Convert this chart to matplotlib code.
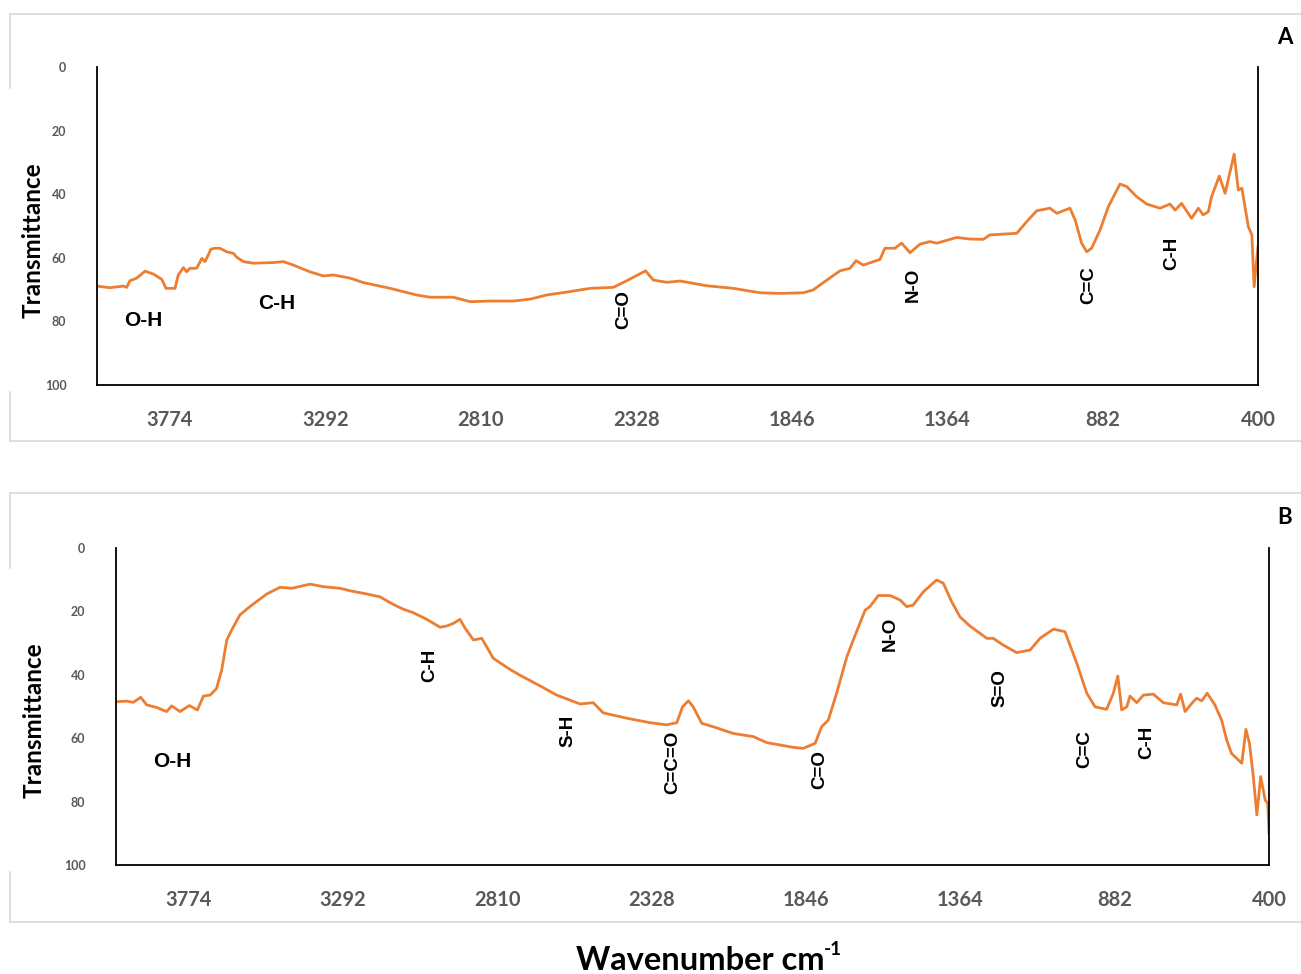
import matplotlib
matplotlib.use("Agg")
import matplotlib.pyplot as plt

# spectrum A (wavenumber, transmittance)
wn_a = [4000, 3960, 3918, 3908, 3898, 3877, 3851, 3825, 3799, 3786, 3758, 3748, 3732, 3722, 3712, 3691,
        3675, 3665, 3655, 3647, 3634, 3619, 3598, 3577, 3567, 3546, 3515, 3453, 3422, 3391, 3340, 3298,
        3267, 3215, 3174, 3091, 3009, 2967, 2895, 2843, 2781, 2709, 2657, 2606, 2544, 2471, 2399, 2357,
        2299, 2275, 2233, 2192, 2109, 2027, 1944, 1882, 1810, 1779, 1737, 1696, 1665, 1646, 1624, 1572,
        1557, 1526, 1505, 1479, 1448, 1417, 1396, 1334, 1293, 1252, 1231, 1148, 1117, 1086, 1045, 1024,
        983, 967, 947, 931, 916, 890, 864, 828, 807, 776, 745, 704, 673, 657, 637, 606, 585, 570, 554,
        544, 520, 502, 474, 461, 450, 430, 419, 412, 406, 400]
t_a = [68.9, 69.4, 68.9, 69.3, 67.2, 66.4, 64.2, 65.1, 66.8, 69.6, 69.6, 65.4, 63.1, 64.4, 63.3, 63.3,
       60.2, 61.2, 59.1, 57.3, 57.0, 57.0, 58.1, 58.6, 59.8, 61.2, 61.7, 61.5, 61.2, 62.3, 64.4, 65.7,
       65.4, 66.4, 67.8, 69.6, 71.7, 72.4, 72.4, 73.8, 73.6, 73.6, 73.0, 71.7, 70.8, 69.6, 69.3, 67.2,
       64.1, 67.0, 67.7, 67.3, 68.8, 69.6, 71.0, 71.2, 71.0, 70.1, 67.0, 64.1, 63.3, 60.9, 62.3, 60.5,
       57.0, 57.0, 55.4, 58.4, 55.7, 54.9, 55.4, 53.6, 54.1, 54.2, 52.8, 52.3, 48.6, 45.2, 44.4, 46.0,
       44.4, 48.1, 55.4, 58.1, 57.0, 51.3, 43.9, 36.8, 37.6, 40.8, 43.1, 44.4, 43.1, 45.0, 42.9, 47.6, 44.4, 46.5, 45.5,
       40.8, 34.3, 39.7, 27.4, 38.7, 38.1, 50.2, 52.8, 69.1, 62.6, 56.5]

# spectrum B
wn_b = [4000, 3967, 3946, 3923, 3904, 3873, 3842, 3826, 3800, 3771, 3746, 3727, 3706, 3686, 3670, 3654,
        3639, 3613, 3582, 3561, 3529, 3488, 3451, 3394, 3353, 3301, 3269, 3217, 3176, 3134, 3103, 3072,
        3030, 2988, 2967, 2947, 2926, 2910, 2884, 2858, 2843, 2822, 2770, 2739, 2676, 2624, 2551, 2510,
        2479, 2405, 2333, 2281, 2249, 2231, 2213, 2198, 2171, 2135, 2073, 2010, 1968, 1885, 1854, 1817,
        1797, 1776, 1750, 1718, 1698, 1661, 1646, 1620, 1583, 1552, 1531, 1511, 1479, 1438, 1417, 1391,
        1365, 1334, 1281, 1261, 1230, 1188, 1146, 1115, 1073, 1037, 1000, 969, 943, 907, 886, 872, 860,
        844, 834, 813, 792, 761, 730, 688, 676, 662, 641, 626, 610, 593, 569, 548, 532, 517, 485, 472,
        461, 449, 438, 426, 412, 404, 400]
t_b = [48.5, 48.3, 48.7, 47.1, 49.5, 50.3, 51.6, 49.8, 51.6, 49.7, 51.1, 46.7, 46.4, 44.3, 38.5, 29.0,
       25.9, 21.1, 18.5, 16.9, 14.5, 12.4, 12.7, 11.4, 12.2, 12.7, 13.5, 14.5, 15.4, 17.8, 19.3, 20.4,
       22.5, 25.0, 24.6, 23.8, 22.5, 25.3, 29.0, 28.5, 31.1, 34.8, 38.3, 40.1, 43.5, 46.4, 49.2, 48.8,
       52.0, 53.7, 55.1, 55.8, 55.1, 50.1, 48.2, 50.1, 55.3, 56.4, 58.5, 59.5, 61.4, 62.9, 63.2, 61.6,
       56.4, 54.3, 45.8, 34.3, 29.0, 19.6, 18.5, 15.0, 15.0, 16.4, 18.5, 18.0, 13.8, 10.1, 11.1, 16.9,
       21.7, 24.6, 28.5, 28.5, 30.6, 33.0, 32.2, 28.5, 25.6, 26.4, 36.4, 45.8, 50.1, 50.9, 45.8, 40.4, 51.1,
       50.1, 46.7, 48.8, 46.4, 46.1, 48.8, 49.5, 46.1, 51.6, 49.0, 47.4, 48.2, 45.8, 49.5, 54.3, 60.6, 64.8, 67.9, 57.2,
       61.6, 72.1, 84.2, 72.1, 79.5, 80.5, 90.0]

xticks = [3774, 3292, 2810, 2328, 1846, 1364, 882, 400]
yticks = [0, 20, 40, 60, 80, 100]

# peak labels: text, wavenumber, transmittance, rotation
lab_a = ["O-H", "C-H", "C=O", "N-O", "C=C", "C-H"]
lab_a_x = [3857, 3442, 2366, 1470, 924, 667]
lab_a_y = [79.6, 74.5, 76.4, 68.6, 68.6, 58.5]
lab_a_rot = [0, 0, 90, 90, 90, 90]

lab_b = ["O-H", "C-H", "S-H", "C=C=O", "C=O", "N-O", "S=O", "C=C", "C-H"]
lab_b_x = [3825, 3020, 2589, 2261, 1802, 1583, 1240, 974, 781]
lab_b_y = [67.2, 36.9, 57.7, 67.5, 70.0, 27.1, 44.2, 63.4, 61.2]
lab_b_rot = [0, 90, 90, 90, 90, 90, 90, 90, 90]

W, H = 1301, 974
fig = plt.figure(figsize=(W / 100, H / 100), dpi=100)

# light frames round each panel (pixel coords)
bg = fig.add_axes([0, 0, 1, 1], zorder=-5)
bg.set_xlim(0, W)
bg.set_ylim(H, 0)
bg.axis('off')
for top, bot, g0, g1 in [(14, 441, 88, 392), (493, 922, 568, 872)]:
    bg.plot([10, W], [top, top], color='#d9d9d9', lw=1.2)
    bg.plot([10, W], [bot, bot], color='#d9d9d9', lw=1.2)
    bg.plot([10, 10], [top, g0], color='#d9d9d9', lw=1.2)
    bg.plot([10, 10], [g1, bot], color='#d9d9d9', lw=1.2)


def style(ax):
    ax.set_xlim(4000, 400)
    ax.set_ylim(100, 0)
    ax.set_xticks(xticks)
    ax.set_yticks(yticks)
    ax.set_xticklabels([str(v) for v in xticks], fontsize=14.5, fontweight='bold',
                       color='#595959', family=['Lato', 'DejaVu Sans'])
    ax.set_yticklabels([str(v) for v in yticks], fontsize=9, fontweight='bold',
                       color='#595959', family=['Lato', 'DejaVu Sans'])
    ax.tick_params(axis='x', length=0, pad=18)
    ax.tick_params(axis='y', length=0, pad=22)
    ax.spines['top'].set_visible(False)
    for s in ['left', 'bottom', 'right']:
        ax.spines[s].set_color('black')
        ax.spines[s].set_linewidth(1.3)
    ax.set_facecolor('none')


ax_a = fig.add_axes([97 / W, 1 - 385 / H, 1161 / W, 318 / H])
ax_a.plot(wn_a, t_a, color='#ed7d31', lw=2)
style(ax_a)
for s, x, y, r in zip(lab_a, lab_a_x, lab_a_y, lab_a_rot):
    ax_a.text(x, y, s, rotation=r, ha='center', va='center', fontweight='bold',
              fontsize=15 if r == 0 else 13.5, family=['Liberation Sans', 'DejaVu Sans'])

ax_b = fig.add_axes([116 / W, 1 - 865 / H, 1153 / W, 317 / H])
ax_b.plot(wn_b, t_b, color='#ed7d31', lw=2)
style(ax_b)
for s, x, y, r in zip(lab_b, lab_b_x, lab_b_y, lab_b_rot):
    ax_b.text(x, y, s, rotation=r, ha='center', va='center', fontweight='bold',
              fontsize=15 if r == 0 else 13.5, family=['Liberation Sans', 'DejaVu Sans'])

for yc, xc in [(240, 33), (720, 34)]:
    fig.text(xc / W, 1 - yc / H, 'Transmittance', rotation=90, ha='center', va='center',
             fontsize=17.5, fontweight='bold', family=['Lato', 'DejaVu Sans'])

fig.text(1285 / W, 1 - 38 / H, 'A', ha='center', va='center', fontsize=16,
         fontweight='bold', family=['Lato', 'DejaVu Sans'])
fig.text(1285 / W, 1 - 517 / H, 'B', ha='center', va='center', fontsize=16,
         fontweight='bold', family=['Lato', 'DejaVu Sans'])

xt = fig.text(700 / W, 1 - 961 / H, 'Wavenumber cm', ha='center', va='center',
              fontsize=23.5, fontweight='bold', family=['Lato', 'DejaVu Sans'])
bg.annotate('-1', xy=(1.0, 0.9), xycoords=xt, xytext=(0, 0), textcoords='offset points',
            ha='left', va='center', fontsize=13.5, fontweight='bold', family=['Lato', 'DejaVu Sans'])

fig.savefig('out.png', dpi=100, facecolor='white')
